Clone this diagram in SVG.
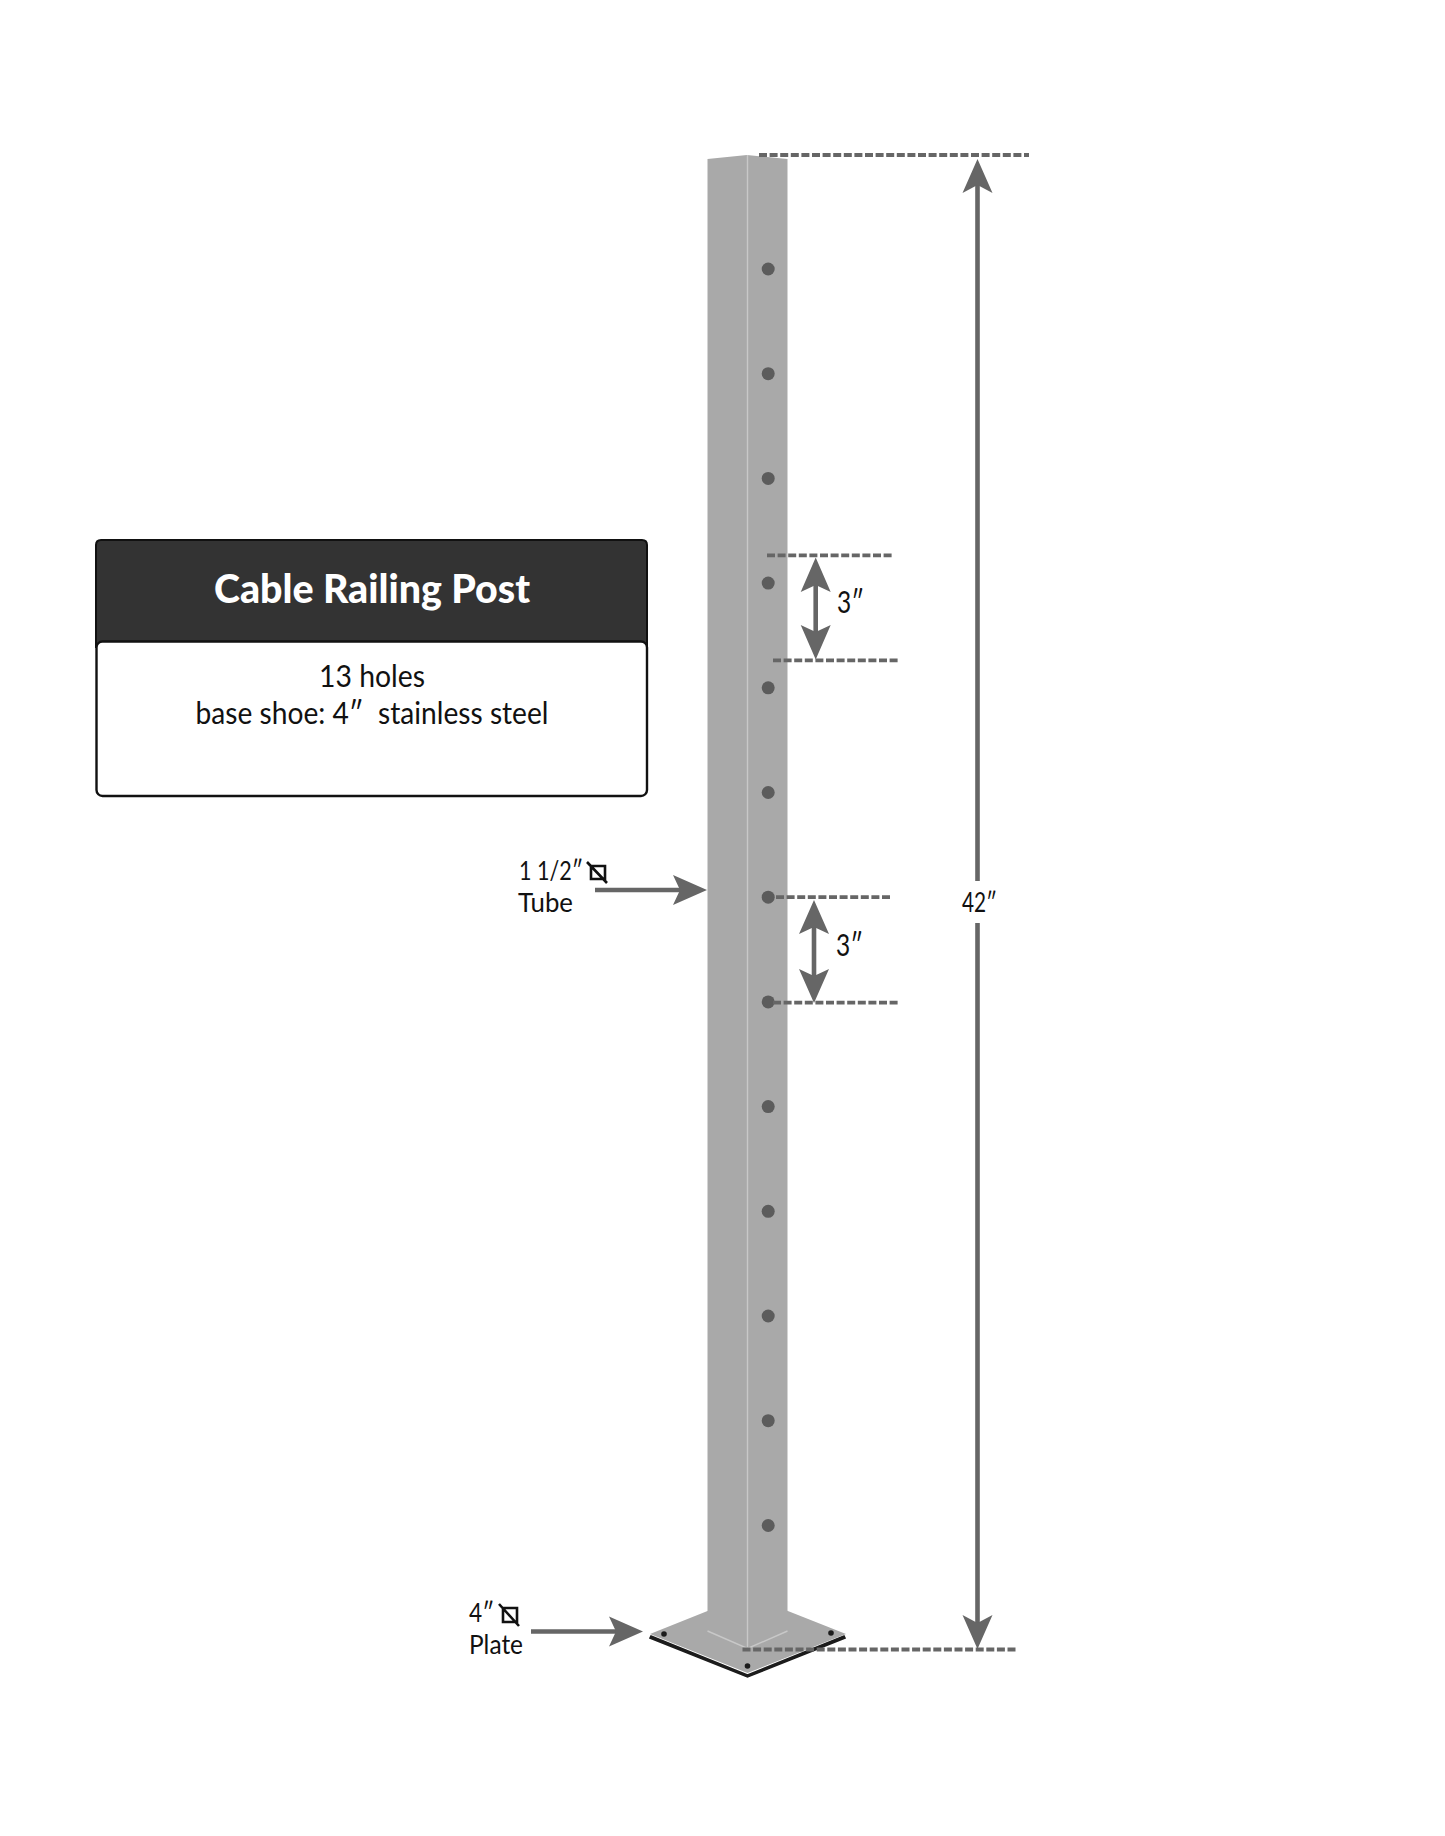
<svg xmlns="http://www.w3.org/2000/svg" width="1445" height="1836" viewBox="0 0 1445 1836">
<style>
text{font-family:Lato,"Open Sans","Liberation Sans",sans-serif;fill:#111;white-space:pre}
.f{fill:#a9a9a9}
.e{fill:none;stroke:#c8c8c8;stroke-width:1.4}
.h{fill:#5c5c5c}
.p{fill:#1c1c1c}
.d{fill:none;stroke:#666;stroke-width:3.8;stroke-dasharray:8 2.6}
.s{fill:none;stroke:#666;stroke-width:4.6}
.a{fill:#666}
.m{fill:none;stroke:#111;stroke-width:2.6}
</style>
<rect width="1445" height="1836" fill="#fff"/>
<g id="table">
<path d="M96 647V545q0-5 5-5H642q5 0 5 5V647z" fill="#333" stroke="#111" stroke-width="2"/>
<rect x="96.500" y="641.500" width="550.500" height="154.500" rx="6" fill="#fff" stroke="#111" stroke-width="2.400"/>
<text x="372" y="602.500" text-anchor="middle" font-size="39" font-weight="900" style="fill:#fff" textLength="316" lengthAdjust="spacingAndGlyphs">Cable Railing Post</text>
<text x="372" y="687" text-anchor="middle" font-size="30" textLength="106" lengthAdjust="spacingAndGlyphs">13 holes</text>
<text x="372" y="724" text-anchor="middle" font-size="30" textLength="353" lengthAdjust="spacingAndGlyphs">base shoe: 4″  stainless steel</text>
</g>
<g id="plate">
<path d="M651 1636L747.500 1675L844 1636L845 1638L747.500 1677L650 1638z" class="p" stroke="#1c1c1c" stroke-width="1.600"/>
<path class="f" d="M650 1634L747.500 1595L846 1634L747.500 1673z"/>
<circle class="p" cx="664" cy="1634" r="2.800"/>
<circle class="p" cx="831" cy="1633" r="2.800"/>
<circle class="p" cx="747.500" cy="1666" r="2.800"/>
</g>
<g id="post">
<path class="f" d="M707.500 159L747 155L787.500 159V1631L747.500 1648.500L707.500 1631z"/>
<path class="e" d="M707.500 1631L747.500 1648.500L787.500 1631M747.500 155V1648.500"/>
<circle class="h" cx="768.200" cy="269" r="6.500"/>
<circle class="h" cx="768.200" cy="373.700" r="6.500"/>
<circle class="h" cx="768.200" cy="478.400" r="6.500"/>
<circle class="h" cx="768.200" cy="583.100" r="6.500"/>
<circle class="h" cx="768.200" cy="687.800" r="6.500"/>
<circle class="h" cx="768.200" cy="792.500" r="6.500"/>
<circle class="h" cx="768.200" cy="897.200" r="6.500"/>
<circle class="h" cx="768.200" cy="1001.900" r="6.500"/>
<circle class="h" cx="768.200" cy="1106.600" r="6.500"/>
<circle class="h" cx="768.200" cy="1211.300" r="6.500"/>
<circle class="h" cx="768.200" cy="1316" r="6.500"/>
<circle class="h" cx="768.200" cy="1420.700" r="6.500"/>
<circle class="h" cx="768.200" cy="1525.500" r="6.500"/>
</g>
<g id="connectors">
<path class="d" d="M759 155H1029"/>
<path class="d" d="M742.500 1649.500H1016"/>
<path class="d" d="M767 555.300H892"/>
<path class="d" d="M773 660.300H900"/>
<path class="d" d="M776 897.200H892"/>
<path class="d" d="M773 1002.700H899"/>
<path class="s" d="M977.500 185V881M977.500 923V1625"/>
<path class="a" d="M977.500 159L992.500 193L977.500 185L962.500 193z"/>
<path class="a" d="M977.500 1649L962.500 1615L977.500 1623L992.500 1615z"/>
<path class="s" d="M815.700 580V636"/>
<path class="a" d="M815.700 557.500L830.700 592L815.700 585L800.700 592z"/>
<path class="a" d="M815.700 659.500L800.700 625L815.700 632L830.700 625z"/>
<path class="s" d="M814 922V982"/>
<path class="a" d="M814 900L829 934L814 927L799 934z"/>
<path class="a" d="M814 1003L799 969L814 976L829 969z"/>
<path class="s" d="M595 890H684"/>
<path class="a" d="M707 890L673 875L680 890L673 905z"/>
<path class="s" d="M531 1631.500H621"/>
<path class="a" d="M643 1631.500L609 1616.500L616 1631.500L609 1646.500z"/>
</g>
<g id="label-42">
<text x="962" y="912" font-size="26" textLength="35" lengthAdjust="spacingAndGlyphs">42″</text>
</g>
<g id="label-3-upper">
<text x="837" y="613" font-size="31" textLength="27" lengthAdjust="spacingAndGlyphs">3″</text>
</g>
<g id="label-3-lower">
<text x="836" y="956" font-size="31" textLength="27" lengthAdjust="spacingAndGlyphs">3″</text>
</g>
<g id="label-tube">
<text x="519" y="880" font-size="26.500" textLength="64" lengthAdjust="spacingAndGlyphs">1 1/2″</text>
<text x="518" y="912" font-size="26.500" textLength="55" lengthAdjust="spacingAndGlyphs">Tube</text>
<path class="m" d="M591 866H605V879H591zM587 862L607 883"/>
</g>
<g id="label-plate">
<text x="469" y="1622" font-size="26.500" textLength="25" lengthAdjust="spacingAndGlyphs">4″</text>
<text x="469" y="1654" font-size="26.500" textLength="54" lengthAdjust="spacingAndGlyphs">Plate</text>
<path class="m" d="M503 1608H517V1622H503zM499 1604L519 1626"/>
</g>
</svg>
